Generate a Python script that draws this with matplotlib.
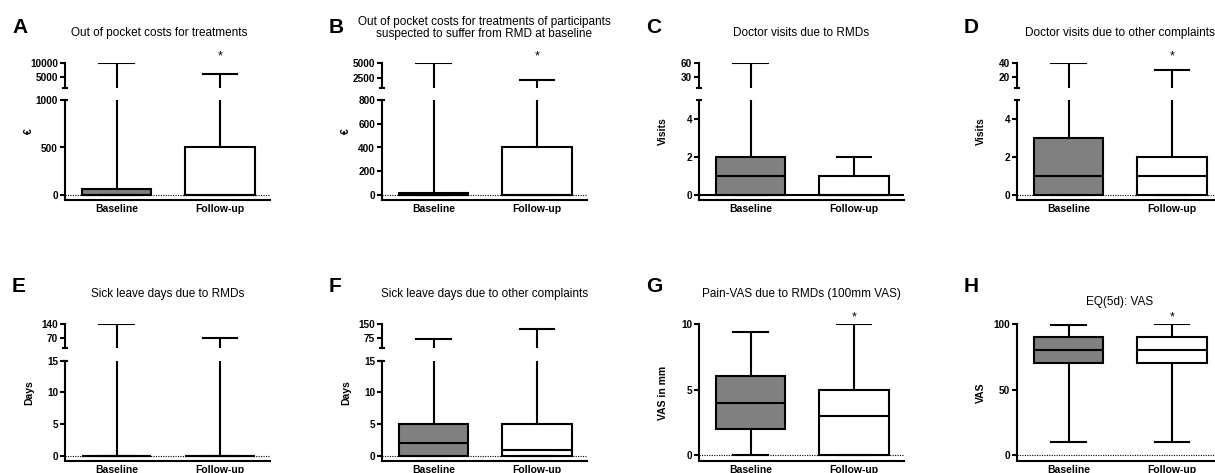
import matplotlib
matplotlib.use("Agg")
import matplotlib.pyplot as plt

W, H = 1215, 473
GREY = "#808080"
LW = 1.5

plt.rcParams["font.family"] = ["Liberation Sans", "DejaVu Sans"]

groups = ["Baseline", "Follow-up"]

# five-number summaries: whisker low, Q1, median, Q3, whisker high
costs_base = [0, 0, 0, 60, 10000]
costs_follow = [0, 0, 0, 500, 6000]
costs_rmd_base = [0, 0, 0, 20, 5000]
costs_rmd_follow = [0, 0, 0, 400, 2150]
visits_rmd_base = [0, 0, 1, 2, 60]
visits_rmd_follow = [0, 0, 0, 1, 2]
visits_other_base = [0, 0, 1, 3, 40]
visits_other_follow = [0, 0, 1, 2, 30]
sick_rmd_base = [0, 0, 0, 0, 140]
sick_rmd_follow = [0, 0, 0, 0, 68]
sick_other_base = [0, 0, 2, 5, 66]
sick_other_follow = [0, 0, 1, 5, 122]
pain_base = [0, 2, 4, 6, 9.4]
pain_follow = [0, 0, 3, 5, 10]
eq_base = [10, 70, 80, 90, 99]
eq_follow = [10, 70, 80, 90, 100]

panels = [
    dict(letter="A", title="Out of pocket costs for treatments", ylabel="€",
         data=(costs_base, costs_follow), upper=(1000, 10000), upper_ticks=[5000, 10000],
         lower_top=1000, lower_ticks=[0, 500, 1000], star=True, title_dx=-8),
    dict(letter="B", title="Out of pocket costs for treatments of participants\nsuspected to suffer from RMD at baseline",
         ylabel="€", data=(costs_rmd_base, costs_rmd_follow), upper=(800, 5000), upper_ticks=[2500, 5000],
         lower_top=800, lower_ticks=[0, 200, 400, 600, 800], star=True),
    dict(letter="C", title="Doctor visits due to RMDs", ylabel="Visits",
         data=(visits_rmd_base, visits_rmd_follow), upper=(5, 60), upper_ticks=[30, 60],
         lower_top=5, lower_ticks=[0, 2, 4], star=False, solid_zero=True),
    dict(letter="D", title="Doctor visits due to other complaints", ylabel="Visits",
         data=(visits_other_base, visits_other_follow), upper=(5, 40), upper_ticks=[20, 40],
         lower_top=5, lower_ticks=[0, 2, 4], star=True),
    dict(letter="E", title="Sick leave days due to RMDs", ylabel="Days",
         data=(sick_rmd_base, sick_rmd_follow), upper=(15, 140), upper_ticks=[70, 140],
         lower_top=15, lower_ticks=[0, 5, 10, 15], star=False),
    dict(letter="F", title="Sick leave days due to other complaints", ylabel="Days",
         data=(sick_other_base, sick_other_follow), upper=(15, 150), upper_ticks=[75, 150],
         lower_top=15, lower_ticks=[0, 5, 10, 15], star=False),
    dict(letter="G", title="Pain-VAS due to RMDs (100mm VAS)", ylabel="VAS in mm",
         data=(pain_base, pain_follow), upper=None,
         lower_top=10, lower_ticks=[0, 5, 10], star=True),
    dict(letter="H", title="EQ(5d): VAS", ylabel="VAS",
         data=(eq_base, eq_follow), upper=None,
         lower_top=100, lower_ticks=[0, 50, 100], star=True, title_dy=8),
]

col_left = [65, 382, 699, 1017]
panel_w = 205
# per row pixel geometry
rows = [
    dict(up=(63, 88), low=(100, 200), zero=195, single=(63, 200), single_zero=195,
         letter_y=33, title_y=36),
    dict(up=(324, 348.3), low=(360.7, 461), zero=456, single=(324, 461), single_zero=455,
         letter_y=292, title_y=297),
]

fig = plt.figure(figsize=(W / 100, H / 100), dpi=100)


def px_rect(left, top, width, bottom):
    return [left / W, 1 - bottom / H, width / W, (bottom - top) / H]


def style_axis(ax, ticks, lim):
    ax.set_ylim(*lim)
    ax.set_yticks(ticks, labels=[str(t) for t in ticks])
    ax.tick_params(axis="y", direction="out", length=3.5, width=LW, pad=1.5,
                   labelsize=7.2)
    for lab in ax.get_yticklabels():
        lab.set_fontweight("bold")
    ax.spines["left"].set_linewidth(LW)
    ax.spines["top"].set_visible(False)
    ax.spines["right"].set_visible(False)


def draw_boxes(ax, values, floor=None):
    stats = []
    for lo, q1, med, q3, hi in values:
        stats.append(dict(whislo=lo, q1=q1, med=med, q3=q3, whishi=hi, fliers=[]))
    line = dict(color="black", linewidth=LW)
    bp = ax.bxp(stats, positions=[1, 2], widths=0.667, patch_artist=True,
                showfliers=False, manage_ticks=False, showbox=floor is None,
                boxprops=dict(edgecolor="black", linewidth=LW),
                medianprops=line, whiskerprops=line, capprops=line, zorder=3)
    if floor is None:
        for patch, color in zip(bp["boxes"], [GREY, "white"]):
            patch.set_facecolor(color)
    else:
        # upper part of a broken axis: keep only what reaches above the break
        for art in bp["medians"] + bp["caps"] + bp["whiskers"]:
            if max(art.get_ydata()) <= floor:
                art.set_visible(False)


def break_mark(ax, y):
    ax.plot([0], [y], marker="_", ms=4.5, mew=LW, color="black",
            transform=ax.transAxes, clip_on=False, zorder=5)


for i, p in enumerate(panels):
    row = rows[i // 4]
    left = col_left[i % 4]
    width = min(panel_w, W - left)
    xlim = (1 - 51.5 / 103.5, 1 + (width - 51.5) / 103.5)

    if p["upper"] is not None:
        top, bottom = row["low"]
        zero = row["zero"]
    else:
        top, bottom = row["single"]
        zero = row["single_zero"]
    ytop = p["lower_top"]
    ylo = -(bottom - zero) / (zero - top) * ytop

    ax = fig.add_axes(px_rect(left, top, width, bottom))
    draw_boxes(ax, p["data"])
    style_axis(ax, p["lower_ticks"], (ylo, ytop))
    ax.spines["bottom"].set_linewidth(LW)
    ax.set_xlim(*xlim)
    ax.set_xticks([1, 2], labels=groups)
    ax.tick_params(axis="x", length=0, pad=3, labelsize=7.5)
    for lab in ax.get_xticklabels():
        lab.set_fontweight("bold")
    if p.get("solid_zero"):
        ax.axhline(0, color="black", linewidth=LW, zorder=1)
    else:
        ax.axhline(0, color="black", linewidth=0.8, linestyle=(0, (1, 1.2)), zorder=1)

    star_ax = ax
    if p["upper"] is not None:
        break_mark(ax, 1)
        utop, ubottom = row["up"]
        ax_up = fig.add_axes(px_rect(left, utop, width, ubottom))
        draw_boxes(ax_up, p["data"], floor=p["upper"][0])
        style_axis(ax_up, p["upper_ticks"], p["upper"])
        ax_up.spines["bottom"].set_visible(False)
        ax_up.set_xlim(*xlim)
        ax_up.set_xticks([])
        ax_up.patch.set_visible(False)
        break_mark(ax_up, 0)
        star_ax = ax_up
        label_top = utop
    else:
        label_top = top

    if p["star"]:
        star_ax.annotate("*", xy=(2, 1), xycoords=("data", "axes fraction"),
                         xytext=(0, 2.5), textcoords="offset points",
                         ha="center", va="baseline", fontsize=9)

    # y label centred on the whole panel height
    fig.text((left - 36) / W, 1 - (label_top + bottom) / 2 / H, p["ylabel"],
             rotation=90, ha="center", va="center", fontsize=7.5, fontweight="bold")

    # panel letter and title
    fig.text((left - 53) / W, 1 - row["letter_y"] / H, p["letter"],
             ha="left", va="baseline", fontsize=15, fontweight="bold")
    cx = left + 102.5 + p.get("title_dx", 0)
    lines = p["title"].split("\n")
    base_y = row["title_y"] + p.get("title_dy", 0)
    if len(lines) == 2:
        base_y = 25
    for k, text in enumerate(lines):
        fig.text(cx / W, 1 - (base_y + 12 * k) / H, text,
                 ha="center", va="baseline", fontsize=8.5)

fig.savefig("out.png", dpi=100)
